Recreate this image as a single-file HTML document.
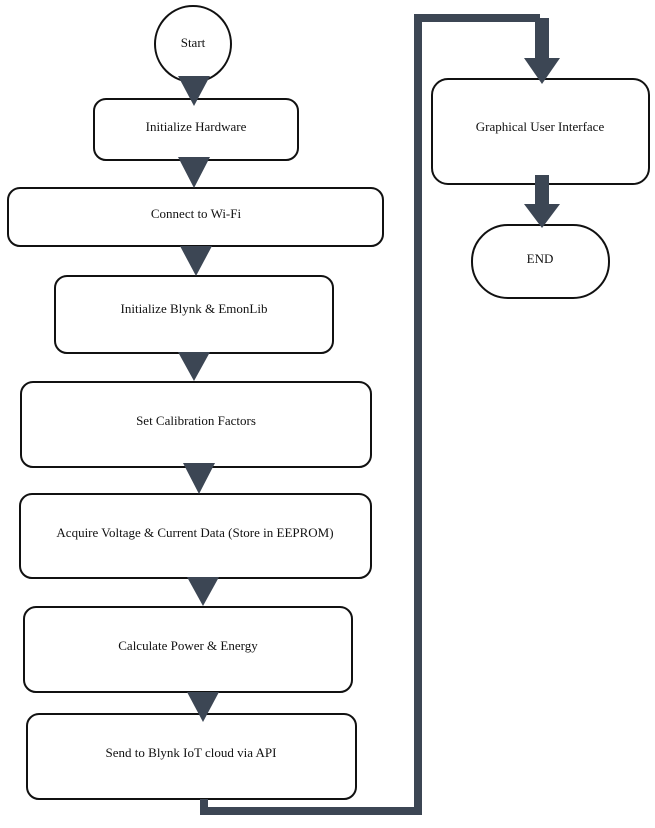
<!DOCTYPE html>
<html><head><style>body{margin:0;background:#fff}svg{display:block}text{font-family:"Liberation Serif",serif;font-size:13px;fill:#111;text-anchor:middle;dominant-baseline:middle}</style></head>
<body>
<svg width="655" height="828" viewBox="0 0 655 828">
<g fill="#fff" stroke="#111" stroke-width="2">
<circle cx="193" cy="44" r="38"/>
<rect x="94" y="99" width="204" height="61" rx="12"/>
<rect x="8" y="188" width="375" height="58" rx="12"/>
<rect x="55" y="276" width="278" height="77" rx="12"/>
<rect x="21" y="382" width="350" height="85" rx="12"/>
<rect x="20" y="494" width="351" height="84" rx="12"/>
<rect x="24" y="607" width="328" height="85" rx="12"/>
<rect x="27" y="714" width="329" height="85" rx="12"/>
<rect x="432" y="79" width="217" height="105" rx="16"/>
<rect x="472" y="225" width="137" height="73" rx="36"/>
</g>
<g fill="#3c4654">
<polygon points="178,76 210,76 194,106"/>
<polygon points="178,157 210,157 194,188"/>
<polygon points="180,246 212,246 196,276"/>
<polygon points="178,352 210,352 194,381"/>
<polygon points="183,463 215,463 199,494"/>
<polygon points="187,577 219,577 203,606"/>
<polygon points="187,692 219,692 203,722"/>
<polygon points="524,58 560,58 542,84"/>
<rect x="535" y="18" width="14" height="42"/>
<rect x="535" y="175" width="14" height="30"/>
<polygon points="524,204 560,204 542,228"/>
</g>
<polyline points="204,799 204,811 418,811 418,18 540,18" fill="none" stroke="#3c4654" stroke-width="8"/>
<text x="193" y="44">Start</text>
<text x="196" y="128">Initialize Hardware</text>
<text x="196" y="215">Connect to Wi-Fi</text>
<text x="194" y="310">Initialize Blynk &amp; EmonLib</text>
<text x="196" y="422">Set Calibration Factors</text>
<text x="195" y="534">Acquire Voltage &amp; Current Data (Store in EEPROM)</text>
<text x="188" y="647">Calculate Power &amp; Energy</text>
<text x="191" y="754">Send to Blynk IoT cloud via API</text>
<text x="540" y="128">Graphical User Interface</text>
<text x="540" y="260">END</text>
</svg>
</body></html>
